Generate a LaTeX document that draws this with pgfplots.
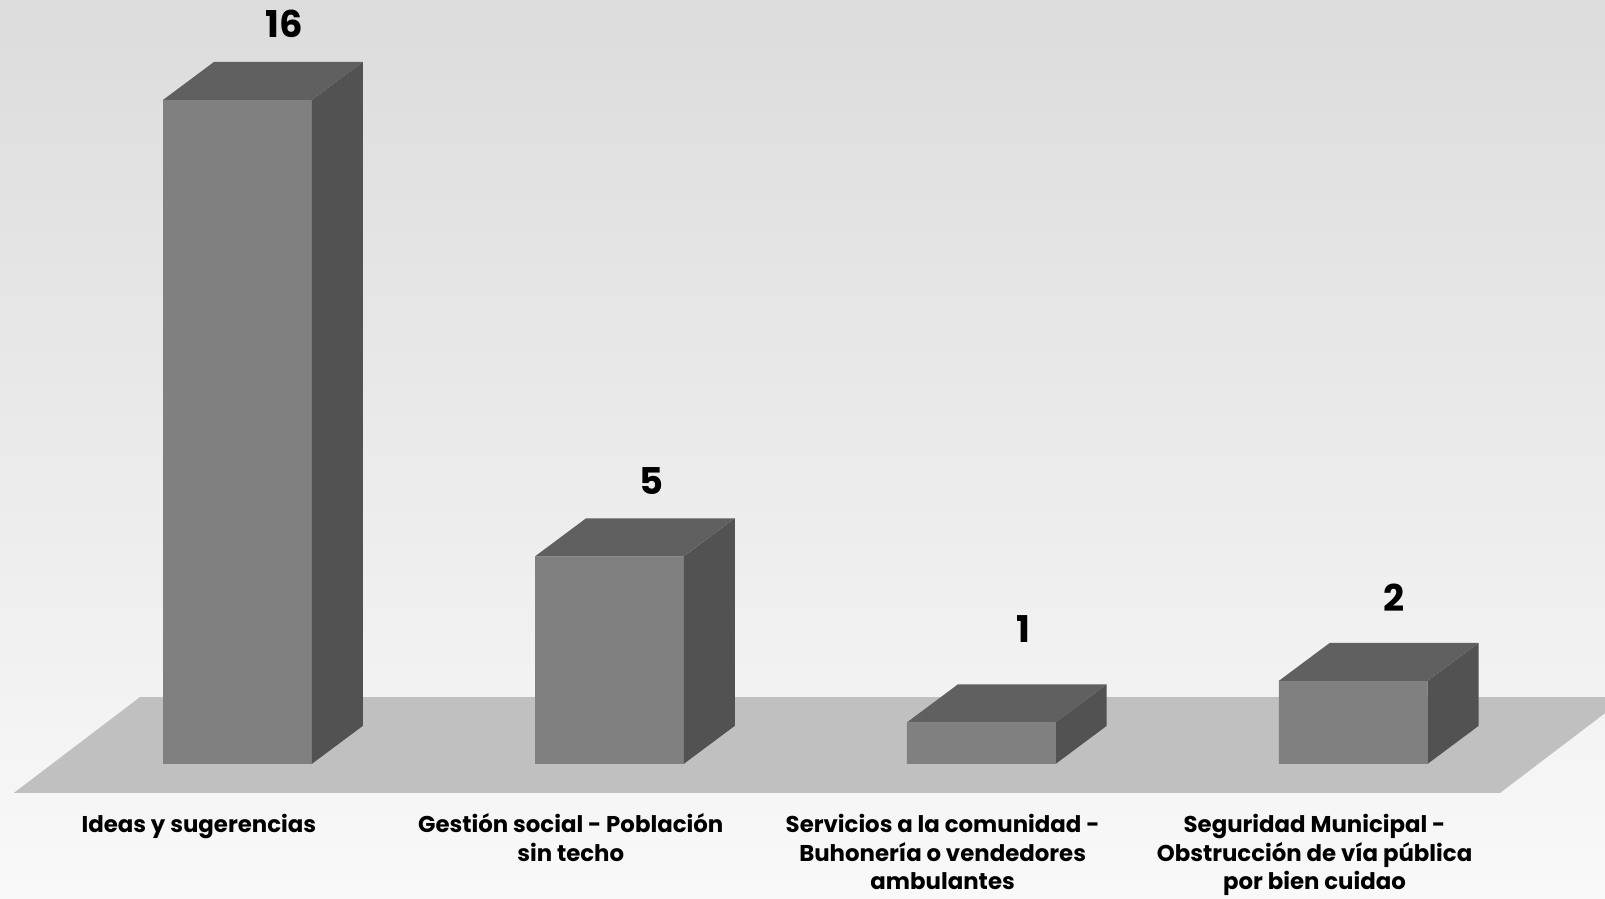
\documentclass[border=0pt]{standalone}
\usepackage{fontspec}
\setmainfont{Poppins}
\usepackage{pgfplots}
\usepackage{pgfplotstable}
\pgfplotsset{compat=1.18}
\definecolor{frontc}{HTML}{808080}
\definecolor{topc}{HTML}{606060}
\definecolor{sidec}{HTML}{525252}
\definecolor{floorc}{HTML}{C0C0C0}
\definecolor{bgtop}{HTML}{DCDCDC}
\definecolor{bgbot}{HTML}{F9F9F9}
\newcommand{\lst}{\rule{0pt}{0.26cm}}

\pgfplotstableread{
x v
0 16
1 5
2 1
3 2
}\bardata

\begin{document}
\begin{tikzpicture}
\begin{axis}[
  scale only axis, width=16.05cm, height=8.98cm,
  xmin=-0.6386, xmax=3.677, ymin=-3.241, ymax=18.398,
  axis line style={draw=none},
  major tick length=0pt,
  axis background/.style={shade, top color=bgtop, bottom color=bgbot},
  xtick={-0.104,0.896,1.896,2.896},
  xticklabels={{\lst Ideas y sugerencias},{\lst Gestión social - Población\\sin techo},{\lst Servicios a la comunidad -\\Buhonería o vendedores\\ambulantes},{\lst Seguridad Municipal -\\Obstrucción de vía pública\\por bien cuidao}},
  xticklabel style={anchor=north, yshift=0.925cm, align=center, inner sep=0pt, font=\bfseries\fontsize{6.5}{8.1}\selectfont},
  ytick=\empty,
  clip=true,
]
\addplot[fill=floorc, draw=none] coordinates {(-0.601,-0.699) (3.395,-0.699) (3.734,1.61) (-0.262,1.61)};
\addplot[ybar, bar width=0.4, fill=frontc, draw=none] table[x=x,y=v]{\bardata};
\pgfplotsforeachungrouped \i in {0,...,3}{
  \pgfplotstablegetelem{\i}{x}\of\bardata \let\bx\pgfplotsretval
  \pgfplotstablegetelem{\i}{v}\of\bardata \let\bv\pgfplotsretval
  \pgfmathsetmacro\xl{\bx-0.2}
  \pgfmathsetmacro\xr{\bx+0.2}
  \pgfmathsetmacro\xrb{\bx+0.2+0.1371}
  \pgfmathsetmacro\xlb{\bx-0.2+0.1371}
  \pgfmathsetmacro\yb{\bv+0.916}
  \edef\tmp{\noexpand\addplot[fill=sidec, draw=none] coordinates {(\xr,0) (\xrb,0.916) (\xrb,\yb) (\xr,\bv)};
    \noexpand\addplot[fill=topc, draw=none] coordinates {(\xl,\bv) (\xlb,\yb) (\xrb,\yb) (\xr,\bv)};}
  \tmp
}
\addplot[draw=none, mark=none, nodes near coords, point meta=explicit symbolic,
  nodes near coords style={anchor=base, inner sep=0pt, text=black, font=\bfseries\fontsize{10.5}{12}\selectfont}]
  coordinates {(0.125,17.51)[16] (1.112,6.49)[5] (2.112,2.93)[1] (3.11,3.68)[2]};
\end{axis}
\end{tikzpicture}
\end{document}
